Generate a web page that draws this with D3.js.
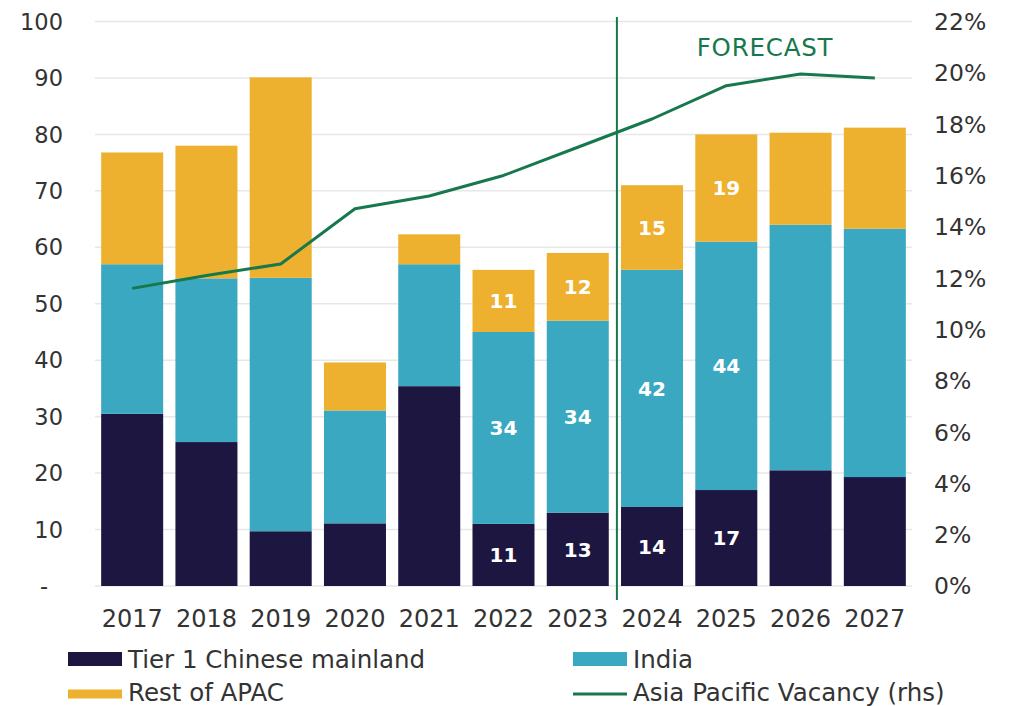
<!DOCTYPE html>
<html>
<head>
<meta charset="utf-8">
<script src="https://cdn.jsdelivr.net/npm/d3@7"></script>
<style>
  html, body { margin: 0; padding: 0; background: #ffffff; }
  svg { display: block; font-family: "DejaVu Sans", sans-serif; }
</style>
</head>
<body>
<svg id="chart" width="1011" height="706"></svg>
<script>
// Office supply by market (stacked bars, left axis) and regional vacancy (line, right axis)
const years   = ["2017","2018","2019","2020","2021","2022","2023","2024","2025","2026","2027"];
const tier1   = [30.5, 25.5, 9.7, 11.1, 35.4, 11, 13, 14, 17, 20.5, 19.3];
const india   = [26.5, 29.0, 44.9, 20.0, 21.6, 34, 34, 42, 44, 43.5, 44.0];
const restApac = [19.8, 23.5, 35.5, 8.5, 5.3, 11, 12, 15, 19, 16.3, 17.9];
const vacancy = [0.116, 0.121, 0.1255, 0.147, 0.152, 0.160, 0.171, 0.182, 0.195, 0.1995, 0.198];
const leftTicks  = [0, 10, 20, 30, 40, 50, 60, 70, 80, 90, 100];
const rightTicks = [0, 0.02, 0.04, 0.06, 0.08, 0.10, 0.12, 0.14, 0.16, 0.18, 0.20, 0.22];
const labelledYears = ["2022","2023","2024","2025"];
const forecastStart = "2024";

const seriesKeys   = ["tier1", "india", "rest"];
const seriesNames  = {tier1: "Tier 1 Chinese mainland", india: "India", rest: "Rest of APAC"};
const seriesColors = {tier1: "#1d1641", india: "#3aa8c0", rest: "#eeb12f"};
const lineColor = "#17784d";
const textColor = "#333333";

const rows = years.map((y, i) => ({year: y, tier1: tier1[i], india: india[i], rest: restApac[i], vacancy: vacancy[i]}));

const svg = d3.select("#chart");
const plotLeft = 95, plotRight = 912, plotTop = 21.5, plotBottom = 586;

const x = d3.scaleBand().domain(years).range([plotLeft, plotRight]).paddingInner(0.165).paddingOuter(0.083);
const yL = d3.scaleLinear().domain([0, 100]).range([plotBottom, plotTop]);
const yR = d3.scaleLinear().domain([0, 0.22]).range([plotBottom, plotTop]);

// gridlines
svg.append("g").selectAll("line").data(leftTicks).join("line")
  .attr("x1", plotLeft).attr("x2", plotRight)
  .attr("y1", d => yL(d)).attr("y2", d => yL(d))
  .attr("stroke", "#e7e7e7").attr("stroke-width", 1.5);

// left axis labels
svg.append("g").selectAll("text").data(leftTicks).join("text")
  .attr("x", d => d === 0 ? 48 : 63)
  .attr("y", d => yL(d))
  .attr("dy", "0.36em")
  .attr("text-anchor", "end")
  .attr("font-size", 22.5)
  .attr("fill", textColor)
  .text(d => d === 0 ? "-" : d);

// right axis labels
svg.append("g").selectAll("text").data(rightTicks).join("text")
  .attr("x", 934)
  .attr("y", d => yR(d))
  .attr("dy", "0.36em")
  .attr("text-anchor", "start")
  .attr("font-size", 23.5)
  .attr("fill", textColor)
  .text(d => d3.format(".0%")(d));

// stacked bars
const stacked = d3.stack().keys(seriesKeys)(rows);
const layers = svg.append("g").selectAll("g").data(stacked).join("g")
  .attr("fill", d => seriesColors[d.key]);
layers.selectAll("rect").data(d => d).join("rect")
  .attr("x", d => x(d.data.year))
  .attr("width", x.bandwidth())
  .attr("y", d => yL(d[1]))
  .attr("height", d => yL(d[0]) - yL(d[1]));

// segment value labels
const labelData = [];
stacked.forEach(layer => layer.forEach(d => {
  if (labelledYears.includes(d.data.year)) labelData.push({year: d.data.year, lo: d[0], hi: d[1], v: d.data[layer.key]});
}));
svg.append("g").selectAll("text").data(labelData).join("text")
  .attr("x", d => x(d.year) + x.bandwidth() / 2)
  .attr("y", d => yL((d.lo + d.hi) / 2))
  .attr("dy", "0.36em")
  .attr("text-anchor", "middle")
  .attr("font-size", 20)
  .attr("font-weight", 600)
  .attr("fill", "#ffffff")
  .text(d => d3.format(".0f")(d.v));

// x axis labels
svg.append("g").selectAll("text").data(years).join("text")
  .attr("x", d => x(d) + x.bandwidth() / 2)
  .attr("y", 618)
  .attr("dy", "0.36em")
  .attr("text-anchor", "middle")
  .attr("font-size", 24)
  .attr("fill", textColor)
  .text(d => d);

// forecast divider
const prevYear = years[years.indexOf(forecastStart) - 1];
const divX = ((x(prevYear) + x.bandwidth()) + x(forecastStart)) / 2 + 2;
svg.append("line")
  .attr("x1", divX).attr("x2", divX)
  .attr("y1", 17).attr("y2", 600)
  .attr("stroke", lineColor).attr("stroke-width", 2);
svg.append("text")
  .attr("x", 765).attr("y", 47)
  .attr("dy", "0.36em")
  .attr("text-anchor", "middle")
  .attr("font-size", 24.5)
  .attr("letter-spacing", 0.8)
  .attr("fill", lineColor)
  .text("FORECAST");

// vacancy line
const line = d3.line()
  .x(d => x(d.year) + x.bandwidth() / 2)
  .y(d => yR(d.vacancy));
svg.append("path").datum(rows)
  .attr("d", line)
  .attr("fill", "none")
  .attr("stroke", lineColor)
  .attr("stroke-width", 3)
  .attr("stroke-linejoin", "round");

// legend
const legendItems = [
  {name: seriesNames.tier1, type: "bar", color: seriesColors.tier1, lx: 68, ly: 659, h: 14},
  {name: seriesNames.india, type: "bar", color: seriesColors.india, lx: 573, ly: 659, h: 14},
  {name: seriesNames.rest, type: "bar", color: seriesColors.rest, lx: 68, ly: 694, h: 9},
  {name: "Asia Pacific Vacancy (rhs)", type: "line", color: lineColor, lx: 573, ly: 692}
];
const leg = svg.append("g").selectAll("g").data(legendItems).join("g")
  .attr("transform", d => `translate(${d.lx},${d.ly})`);
leg.filter(d => d.type === "bar").append("rect")
  .attr("x", 0).attr("y", d => -d.h / 2).attr("width", 54).attr("height", d => d.h)
  .attr("fill", d => d.color);
leg.filter(d => d.type === "line").append("line")
  .attr("x1", 0).attr("x2", 54).attr("y1", 2).attr("y2", 2)
  .attr("stroke", d => d.color).attr("stroke-width", 3);
leg.append("text")
  .attr("x", 60).attr("y", d => d.type === "bar" && d.h < 12 ? -2 : 0)
  .attr("dy", "0.36em")
  .attr("font-size", 24.5)
  .attr("fill", textColor)
  .text(d => d.name);
</script>
</body>
</html>
